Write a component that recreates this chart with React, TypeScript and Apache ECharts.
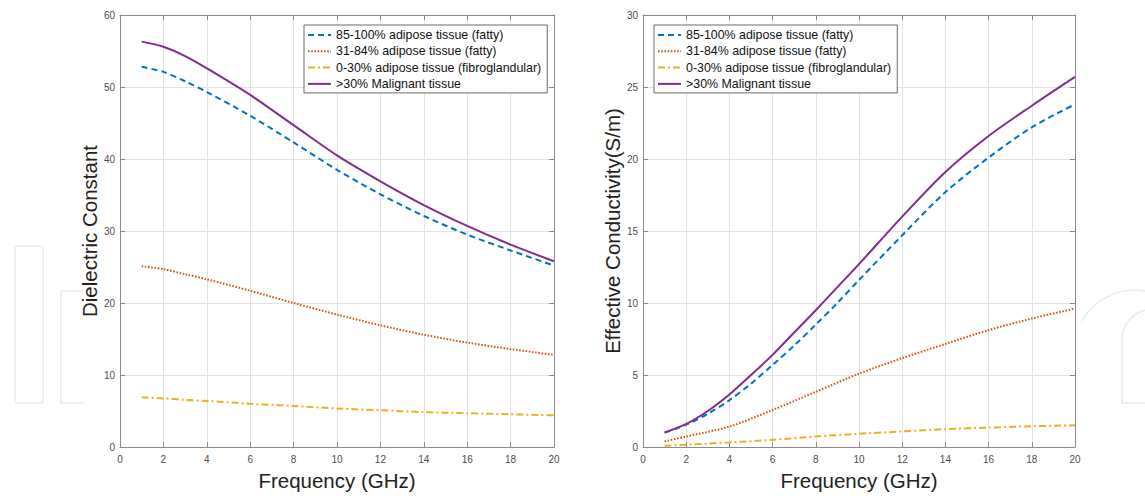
import React, { useEffect, useRef } from "react";
import * as echarts from "echarts";

// ---------- data ----------
const seriesNames = [
  "85-100% adipose tissue (fatty)",
  "31-84% adipose tissue (fatty)",
  "0-30% adipose tissue (fibroglandular)",
  ">30% Malignant tissue",
];

const xTicks = [0, 2, 4, 6, 8, 10, 12, 14, 16, 18, 20];

// Dielectric constant (left chart)
const freqDiel = [1, 2, 3, 4, 6, 8, 10, 12, 14, 16, 18, 20];
const dielHighFat = [52.8, 52.1, 50.8, 49.3, 46.0, 42.3, 38.5, 35.1, 32.1, 29.5, 27.3, 25.2];
const dielMidFat = [25.1, 24.7, 24.0, 23.3, 21.7, 20.0, 18.4, 16.9, 15.6, 14.5, 13.6, 12.8];
const dielFibro = [6.9, 6.75, 6.55, 6.4, 6.0, 5.7, 5.35, 5.1, 4.85, 4.7, 4.55, 4.4];
const dielMalig = [56.3, 55.6, 54.3, 52.6, 48.9, 44.7, 40.5, 36.9, 33.6, 30.7, 28.1, 25.8];

// Effective conductivity (right chart)
const freqCondFine = [1, 2, 3, 4, 5, 6, 7, 8, 9, 10, 12, 14, 16, 18, 20];
const condHighFat = [1.0, 1.55, 2.3, 3.25, 4.4, 5.7, 7.05, 8.5, 10.0, 11.6, 14.7, 17.7, 20.1, 22.2, 23.8];
const condMalig = [1.0, 1.6, 2.5, 3.65, 5.0, 6.4, 7.95, 9.5, 11.1, 12.7, 16.0, 19.1, 21.6, 23.7, 25.7];
const freqCond = [1, 2, 4, 6, 8, 10, 12, 14, 16, 18, 20];
const condMidFat = [0.39, 0.73, 1.42, 2.57, 3.83, 5.09, 6.17, 7.16, 8.12, 8.92, 9.61];
const condFibro = [0.09, 0.16, 0.32, 0.5, 0.73, 0.92, 1.08, 1.24, 1.35, 1.44, 1.51];

// ---------- styling ----------
const FONT = "'Liberation Sans', Arial, Helvetica, sans-serif";
const COLORS = ["#0072BD", "#D95319", "#EDB120", "#7E2F8E"];
const DASHES: any[] = [[6, 4], [1.6, 1.6], [7, 3, 2, 3], "solid"];
const AXIS_COLOR = "#8a8a8a";
const GRID_COLOR = "#e2e2e2";
const WM = "#ebebeb";
const TITLE_SIZE = 20.5;

const pairs = (xs: number[], ys: number[]) => xs.map((x, i) => [x, ys[i]]);

function App() {
  const ref = useRef<HTMLDivElement>(null);

  useEffect(() => {
    if (!ref.current) return;
    const chart = echarts.init(ref.current, null, { renderer: "svg" });

    const bottomX = (gridIndex: number) => ({
      type: "value",
      gridIndex,
      position: "bottom",
      min: xTicks[0],
      max: xTicks[xTicks.length - 1],
      interval: 2,
      name: "Frequency (GHz)",
      nameLocation: "middle",
      nameGap: 23,
      nameTextStyle: { fontFamily: FONT, fontSize: TITLE_SIZE, color: "#222" },
      axisLine: { show: true, onZero: false, lineStyle: { color: AXIS_COLOR, width: 1 } },
      axisTick: { show: true, inside: true, length: 5, lineStyle: { color: AXIS_COLOR } },
      axisLabel: { fontFamily: FONT, fontSize: 10, color: "#4d4d4d", margin: 7 },
      splitLine: { show: true, lineStyle: { color: GRID_COLOR, width: 1 } },
    });
    const topX = (gridIndex: number) => ({
      type: "value",
      gridIndex,
      position: "top",
      min: xTicks[0],
      max: xTicks[xTicks.length - 1],
      interval: 2,
      axisLine: { show: true, onZero: false, lineStyle: { color: AXIS_COLOR, width: 1 } },
      axisTick: { show: true, inside: true, length: 5, lineStyle: { color: AXIS_COLOR } },
      axisLabel: { show: false },
      splitLine: { show: false },
    });
    const leftY = (gridIndex: number, max: number, interval: number, name: string, gap: number) => ({
      type: "value",
      gridIndex,
      position: "left",
      min: 0,
      max,
      interval,
      name,
      nameLocation: "middle",
      nameGap: gap,
      nameTextStyle: { fontFamily: FONT, fontSize: TITLE_SIZE, color: "#222" },
      axisLine: { show: true, onZero: false, lineStyle: { color: AXIS_COLOR, width: 1 } },
      axisTick: { show: true, inside: true, length: 5, lineStyle: { color: AXIS_COLOR } },
      axisLabel: { fontFamily: FONT, fontSize: 10, color: "#4d4d4d", margin: 5 },
      splitLine: { show: true, lineStyle: { color: GRID_COLOR, width: 1 } },
    });
    const rightY = (gridIndex: number, max: number, interval: number) => ({
      type: "value",
      gridIndex,
      position: "right",
      min: 0,
      max,
      interval,
      axisLine: { show: true, onZero: false, lineStyle: { color: AXIS_COLOR, width: 1 } },
      axisTick: { show: true, inside: true, length: 5, lineStyle: { color: AXIS_COLOR } },
      axisLabel: { show: false },
      splitLine: { show: false },
    });

    const mkSeries = (idx: number, data: number[][], xi: number, yi: number) => ({
      type: "line",
      name: seriesNames[idx],
      xAxisIndex: xi,
      yAxisIndex: yi,
      data,
      symbol: "none",
      showSymbol: false,
      smooth: 0.3,
      lineStyle: { color: COLORS[idx], width: 2, type: DASHES[idx] },
      itemStyle: { color: COLORS[idx] },
      z: 3,
    });

    const legendBase = {
      orient: "vertical",
      top: 25,
      itemWidth: 23,
      itemHeight: 12,
      itemGap: 4.3,
      padding: [4, 6, 3, 3],
      borderColor: "#444",
      borderWidth: 0.8,
      borderRadius: 0,
      backgroundColor: "#fff",
      itemStyle: { opacity: 0 },
      textStyle: { fontFamily: FONT, fontSize: 12.4, color: "#111" },
      data: seriesNames,
      selectedMode: false,
      z: 10,
    };

    const wmStyle = { fill: "none", stroke: WM, lineWidth: 1.6 };

    chart.setOption({
      animation: false,
      backgroundColor: "#fff",
      grid: [
        { left: 120, right: 591, top: 15, bottom: 45 },
        { left: 643, right: 70, top: 15, bottom: 45 },
      ],
      xAxis: [bottomX(0), topX(0), bottomX(1), topX(1)],
      yAxis: [
        leftY(0, 60, 10, "Dielectric Constant", 18),
        rightY(0, 60, 10),
        leftY(1, 30, 5, "Effective Conductivity(S/m)", 20),
        rightY(1, 30, 5),
      ],
      legend: [
        { ...legendBase, left: 304 },
        { ...legendBase, left: 654 },
      ],
      graphic: [
        { type: "rect", z: -10, shape: { x: 15, y: 246, width: 28, height: 157, r: 3 }, style: wmStyle },
        { type: "polyline", z: -10, shape: { points: [[83, 291], [61, 291], [61, 403], [83, 403]] }, style: wmStyle },
        { type: "arc", z: -10, shape: { cx: 1135, cy: 351, r: 61, startAngle: 3.62, endAngle: 4.88, clockwise: true }, style: wmStyle },
        { type: "polyline", z: -10, shape: { points: [[1145, 403], [1122, 403], [1122, 340]] }, style: wmStyle },
        { type: "arc", z: -10, shape: { cx: 1153, cy: 340, r: 31, startAngle: Math.PI, endAngle: 4.45, clockwise: true }, style: wmStyle },
      ],
      series: [
        mkSeries(0, pairs(freqDiel, dielHighFat), 0, 0),
        mkSeries(1, pairs(freqDiel, dielMidFat), 0, 0),
        mkSeries(2, pairs(freqDiel, dielFibro), 0, 0),
        mkSeries(3, pairs(freqDiel, dielMalig), 0, 0),
        mkSeries(0, pairs(freqCondFine, condHighFat), 2, 2),
        mkSeries(1, pairs(freqCond, condMidFat), 2, 2),
        mkSeries(2, pairs(freqCond, condFibro), 2, 2),
        mkSeries(3, pairs(freqCondFine, condMalig), 2, 2),
      ],
    });

    return () => chart.dispose();
  }, []);

  return (
    <div
      ref={ref}
      style={{ position: "fixed", left: 0, top: 0, width: 1145, height: 496 }}
    />
  );
}

export default App;
